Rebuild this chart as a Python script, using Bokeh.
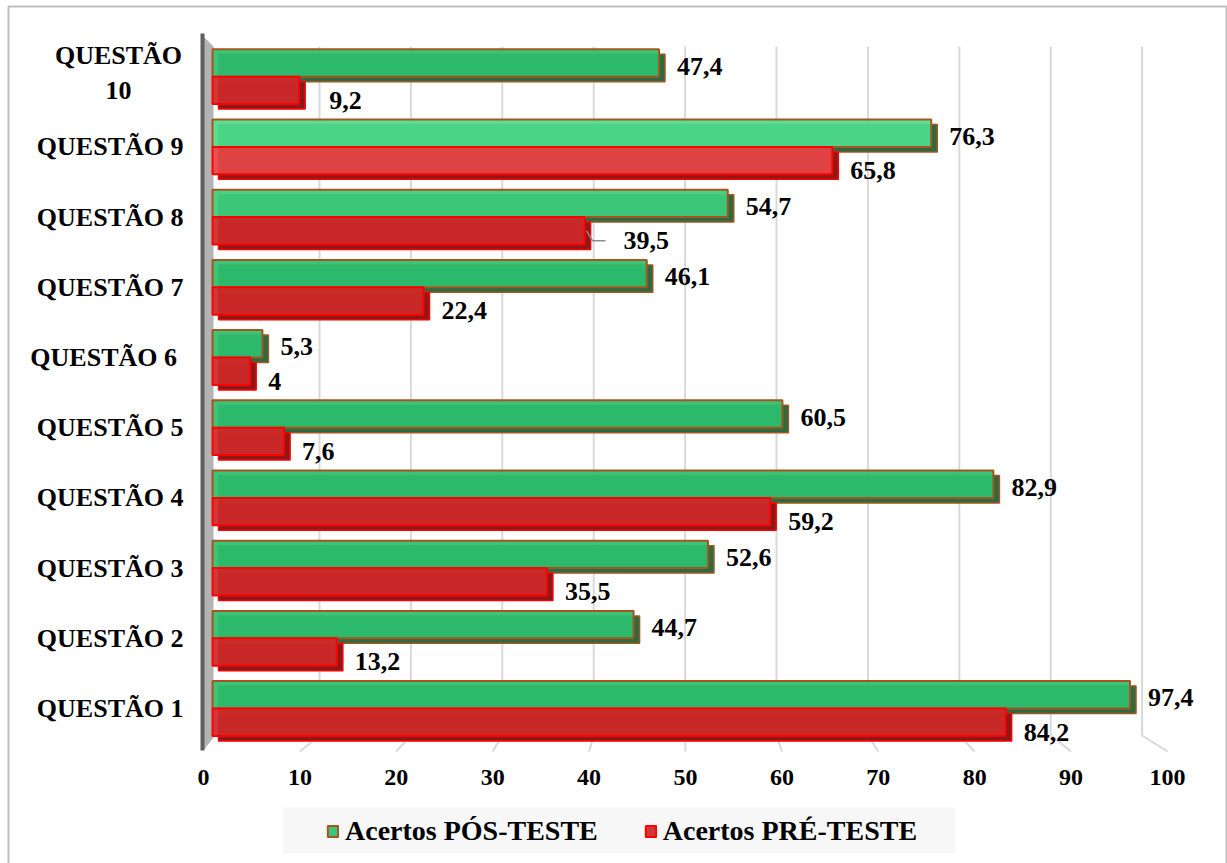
from bokeh.plotting import figure
from bokeh.models import Range1d, ColumnDataSource, Legend, LegendItem
from bokeh.core.properties import value
from bokeh.embed import file_html
from bokeh.resources import INLINE

# ---------------- data ----------------
categories = ["QUESTÃO 1", "QUESTÃO 2", "QUESTÃO 3", "QUESTÃO 4", "QUESTÃO 5",
              "QUESTÃO 6 ", "QUESTÃO 7", "QUESTÃO 8", "QUESTÃO 9", "QUESTÃO\n10"]
pos_teste = [97.4, 44.7, 52.6, 82.9, 60.5, 5.3, 46.1, 54.7, 76.3, 47.4]
pre_teste = [84.2, 13.2, 35.5, 59.2, 7.6, 4.0, 22.4, 39.5, 65.8, 9.2]
ticks = [0, 10, 20, 30, 40, 50, 60, 70, 80, 90, 100]
series_names = ["Acertos PÓS-TESTE", "Acertos PRÉ-TESTE"]

# ---------------- layout helpers (pixel <-> data) ----------------
W, H = 1227, 863
X0, KX = 212.0, 9.42     # pixel of value 0, pixels per unit
Y0, KY = 708.0, 70.2     # pixel of first category centre, pixels per category


def xp(px):
    return (px - X0) / KX


def yp(py):
    return (Y0 - py) / KY


def dx(px):
    return px / KX


def dy(px):
    return px / KY


FONT = value("Liberation Serif")

p = figure(width=W, height=H, x_range=Range1d(xp(0), xp(W)), y_range=Range1d(yp(H), yp(0)),
           output_backend="svg", toolbar_location=None, min_border=0,
           x_axis_location=None, y_axis_location=None)
p.grid.visible = False
p.outline_line_color = None
p.background_fill_color = "white"
p.border_fill_color = "white"

# outer frame (top, left, right)
p.line([xp(8), xp(8), xp(1226), xp(1226)], [yp(880), yp(6), yp(6), yp(880)],
       line_color="#bfbfbf", line_width=2)

# 3D gridlines: back plane + floor diagonal to the front tick position
def back_px(t):
    return 227.6 + 9.14 * t


def front_px(t):
    return 203.0 + 9.64 * t


gx, gy = [], []
for t in ticks[1:]:
    gx.append([xp(back_px(t)), xp(back_px(t)), xp(front_px(t))])
    gy.append([yp(46), yp(735), yp(751)])
p.multi_line(gx, gy, line_color="#d9d9d9", line_width=2)

# wall
p.patch([xp(203), xp(213), xp(213), xp(203)], [yp(36), yp(46), yp(737), yp(750)],
        fill_color="#b3b3b3", line_color=None)
p.line([xp(202), xp(202)], [yp(33), yp(750)], line_color="#5f5f5f", line_width=4)

# ---------------- bars ----------------
n = len(categories)
idx = list(range(n))
h = 0.39
DXd, DYd = dx(6), dy(5)

GREEN, GREEN_D, GREEN_L = "#2dbf6e", "#2a6b44", "#a5561e"
RED, RED_D, RED_L = "#cc2a2a", "#8a1a1a", "#ff0000"
# lighting: the bars of QUESTÃO 9 / 8 are rendered brighter in the original
green_fill = {categories.index("QUESTÃO 9"): "#4ddc8c", categories.index("QUESTÃO 8"): "#3ccd7c"}
red_fill = {categories.index("QUESTÃO 9"): "#e54646"}

src = ColumnDataSource(dict(
    zero=[0.0] * n,
    pos=pos_teste,
    pre=pre_teste,
    g_bot=[i for i in idx],
    g_top=[i + h for i in idx],
    r_bot=[i - h for i in idx],
    r_top=[i for i in idx],
    zero_d=[DXd] * n,
    pos_d=[v + DXd for v in pos_teste],
    pre_d=[v + DXd for v in pre_teste],
    g_bot_d=[i - DYd for i in idx],
    g_top_d=[i + h - DYd for i in idx],
    r_bot_d=[i - h - DYd for i in idx],
    r_top_d=[i - DYd for i in idx],
    gcol=[green_fill.get(i, GREEN) for i in idx],
    rcol=[red_fill.get(i, RED) for i in idx],
))

p.quad(left="zero_d", right="pos_d", bottom="g_bot_d", top="g_top_d", source=src,
       fill_color=GREEN_D, line_color=GREEN_L, line_width=1.5)
r_pos = p.quad(left="zero", right="pos", bottom="g_bot", top="g_top", source=src,
               fill_color="gcol", fill_alpha=0.93, line_color=GREEN_L, line_width=2)
p.quad(left="zero_d", right="pre_d", bottom="r_bot_d", top="r_top_d", source=src,
       fill_color=RED_D, line_color=RED_L, line_width=1.5)
r_pre = p.quad(left="zero", right="pre", bottom="r_bot", top="r_top", source=src,
               fill_color="rcol", fill_alpha=0.93, line_color=RED_L, line_width=2)


def fmt(v):
    return ("%g" % v).replace(".", ",")


# manual label shifts (as moved in the original), in pixels
red_extra = {categories.index("QUESTÃO\n10"): 12, categories.index("QUESTÃO 8"): 21}

lab = ColumnDataSource(dict(
    gx=[v + dx(18) for v in pos_teste],
    gy=[i + h / 2 - dy(3) for i in idx],
    gt=[fmt(v) for v in pos_teste],
    rx=[v + dx(18 + red_extra.get(i, 0)) for i, v in zip(idx, pre_teste)],
    ry=[i - h / 2 - dy(10) for i in idx],
    rt=[fmt(v) for v in pre_teste],
))
p.text(x="gx", y="gy", text="gt", source=lab, text_font=FONT, text_font_style="bold",
       text_font_size="26px", text_align="left", text_baseline="middle", text_color="black")
p.text(x="rx", y="ry", text="rt", source=lab, text_font=FONT, text_font_style="bold",
       text_font_size="26px", text_align="left", text_baseline="middle", text_color="black")

# leader line for QUESTÃO 8 pre-test label
i8 = categories.index("QUESTÃO 8")
v8 = pre_teste[i8]
yc = i8 - h / 2
p.line([v8 + dx(2), v8 + dx(8), v8 + dx(21)], [yc, yc - dy(10), yc - dy(10)],
       line_color="#8c8c8c", line_width=1.5)

# category labels
single = [(i, c) for i, c in zip(idx, categories) if "\n" not in c]
multi = [(i, c) for i, c in zip(idx, categories) if "\n" in c]
p.text(x=[xp(183)] * len(single), y=[i for i, _ in single], text=[c for _, c in single],
       text_font=FONT, text_font_style="bold", text_font_size="26px",
       text_align="right", text_baseline="middle", text_color="black")
p.text(x=[xp(118)] * len(multi), y=[i + dy(4) for i, _ in multi], text=[c for _, c in multi],
       text_font=FONT, text_font_style="bold", text_font_size="26px",
       text_align="center", text_baseline="middle", text_color="black", text_line_height=1.2)

# tick labels (front edge of the 3D floor)
p.text(x=[xp(front_px(t)) for t in ticks], y=[yp(777)] * len(ticks), text=[str(t) for t in ticks],
       text_font=FONT, text_font_style="bold", text_font_size="24px",
       text_align="center", text_baseline="middle", text_color="black")

# legend background box
p.quad(left=[xp(282)], right=[xp(955)], bottom=[yp(853)], top=[yp(807)],
       fill_color="#f7f7f7", line_color=None)

legend = Legend(items=[LegendItem(label=series_names[0], renderers=[r_pos]),
                       LegendItem(label=series_names[1], renderers=[r_pre])],
                orientation="horizontal", location=(326, 16),
                glyph_width=13, glyph_height=14, label_standoff=6, spacing=46,
                padding=0, margin=0, background_fill_alpha=0, border_line_alpha=0,
                label_text_font="Liberation Serif", label_text_font_style="bold",
                label_text_font_size="28px", label_text_color="black")
p.add_layout(legend, "center")

open("out.html", "w").write(file_html(p, INLINE))
